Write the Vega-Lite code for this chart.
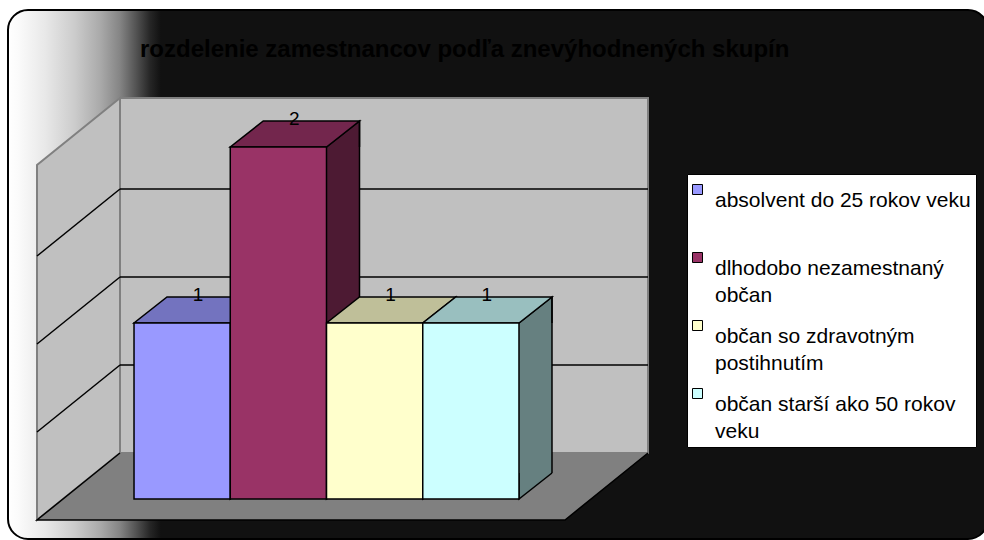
{
  "$schema": "https://vega.github.io/schema/vega-lite/v6.json",
  "width": 528,
  "height": 355,
  "autosize": "none",
  "padding": {"left": 120, "top": 98, "right": 336, "bottom": 87},
  "background": "#ffffff",
  "title": {
    "text": "rozdelenie zamestnancov podľa znevýhodnených skupín",
    "anchor": "start",
    "frame": "group",
    "dx": 20,
    "dy": 75,
    "offset": 0,
    "baseline": "alphabetic",
    "font": "Liberation Sans",
    "fontSize": 24,
    "fontWeight": "bold",
    "color": "#000000"
  },
  "config": {
    "view": {"stroke": null},
    "font": "Liberation Sans",
    "style": {"guide-label": {"lineHeight": 27}}
  },
  "resolve": {"scale": {"x": "independent"}},
  "layer": [
    {
      "data": {"values": [{}]},
      "layer": [
        {
          "mark": {
            "type": "point",
            "shape": "M-92,-443 L848,-443 A20,20 0 0 1 868,-423 L868,66 A20,20 0 0 1 848,86 L-92,86 A20,20 0 0 1 -112,66 L-112,-423 A20,20 0 0 1 -92,-443 Z",
            "size": 4,
            "filled": true,
            "opacity": 1,
            "fill": {
              "gradient": "linear",
              "x1": 0, "y1": 0, "x2": 1, "y2": 0,
              "stops": [
                {"offset": 0, "color": "#ffffff"},
                {"offset": 0.01, "color": "#fbfbfb"},
                {"offset": 0.038, "color": "#e8e8e8"},
                {"offset": 0.068, "color": "#cccccc"},
                {"offset": 0.094, "color": "#aaaaaa"},
                {"offset": 0.114, "color": "#858585"},
                {"offset": 0.13, "color": "#555555"},
                {"offset": 0.145, "color": "#262626"},
                {"offset": 0.156, "color": "#111111"},
                {"offset": 1, "color": "#111111"}
              ]
            },
            "stroke": "#000000",
            "strokeWidth": 2
          },
          "encoding": {
            "x": {"datum": 0, "type": "quantitative", "axis": null, "scale": {"domain": [0, 1], "nice": false, "zero": false}},
            "y": {"datum": 0, "type": "quantitative", "axis": null, "scale": {"domain": [0, 2.017], "nice": false, "zero": false}}
          }
        },
        {
          "mark": {"type": "rect", "fill": "#c0c0c0", "stroke": "#808080", "strokeWidth": 2},
          "encoding": {
            "x": {"datum": 0, "type": "quantitative", "axis": null},
            "x2": {"datum": 1},
            "y": {"datum": 0, "type": "quantitative", "axis": null},
            "y2": {"datum": 2.017}
          }
        },
        {
          "mark": {
            "type": "point",
            "shape": "M0,0 L0,-355 L-83,-288 L-83,67 Z",
            "size": 4,
            "filled": true,
            "opacity": 1,
            "fill": "#c0c0c0",
            "stroke": "#808080",
            "strokeWidth": 2
          },
          "encoding": {
            "x": {"datum": 0, "type": "quantitative", "axis": null},
            "y": {"datum": 0, "type": "quantitative", "axis": null}
          }
        },
        {
          "mark": {
            "type": "point",
            "shape": "M0,0 L-83,67 L445,67 L528,0",
            "size": 4,
            "filled": true,
            "opacity": 1,
            "fill": "#808080",
            "stroke": "#000000",
            "strokeWidth": 1.5
          },
          "encoding": {
            "x": {"datum": 0, "type": "quantitative", "axis": null},
            "y": {"datum": 0, "type": "quantitative", "axis": null}
          }
        },
        {
          "data": {"values": [{"g": 0.5}, {"g": 1}, {"g": 1.5}]},
          "mark": {"type": "rule", "stroke": "#000000", "strokeWidth": 1.5},
          "encoding": {
            "x": {"datum": 0, "type": "quantitative", "axis": null},
            "x2": {"datum": 1},
            "y": {"field": "g", "type": "quantitative", "axis": null}
          }
        },
        {
          "data": {"values": [{"g": 0.5}, {"g": 1}, {"g": 1.5}]},
          "mark": {"type": "rule", "stroke": "#000000", "strokeWidth": 1.5, "x2Offset": -83, "y2Offset": 67},
          "encoding": {
            "x": {"datum": 0, "type": "quantitative", "axis": null},
            "x2": {"datum": 0},
            "y": {"field": "g", "type": "quantitative", "axis": null},
            "y2": {"field": "g"}
          }
        }
      ]
    },
    {
      "data": {
        "values": [
          {"skupina": "absolvent do 25 rokov veku", "pocet": 1},
          {"skupina": "dlhodobo nezamestnaný občan", "pocet": 2},
          {"skupina": "občan so zdravotným postihnutím", "pocet": 1},
          {"skupina": "občan starší ako 50 rokov veku", "pocet": 1}
        ]
      },
      "resolve": {"scale": {"color": "independent"}, "legend": {"color": "independent"}},
      "layer": [
        {
          "encoding": {
            "color": {
              "field": "skupina", "type": "nominal", "legend": null,
              "scale": {
                "domain": ["absolvent do 25 rokov veku", "dlhodobo nezamestnaný občan", "občan so zdravotným postihnutím", "občan starší ako 50 rokov veku"],
                "range": ["#4d4d80", "#4d1a33", "#808066", "#668080"]
              }
            }
          },
          "layer": [
            {
              "mark": {"type": "bar", "width": 33, "xOffset": 64.625, "yOffset": 46, "y2Offset": 20},
              "encoding": {
                "x": {"field": "skupina", "type": "nominal", "sort": null, "axis": null, "scale": {"type": "band", "paddingInner": 0, "paddingOuter": 0.743, "align": 0.098}},
                "y": {"field": "pocet", "type": "quantitative", "axis": null, "scale": {"domain": [0, 2.017], "nice": false, "zero": false}},
                "y2": {"datum": 0}
              }
            },
            {
              "mark": {"type": "point", "shape": "M0,0 L33,-26 L33,0", "size": 4, "filled": true, "opacity": 1, "stroke": "#000000", "strokeWidth": 1.5, "yOffset": 46},
              "encoding": {
                "x": {"field": "skupina", "type": "nominal", "sort": null, "axis": null, "bandPosition": 1},
                "y": {"field": "pocet", "type": "quantitative", "axis": null}
              }
            },
            {
              "mark": {"type": "point", "shape": "M33,-26 L0,0 L0,-26", "size": 4, "filled": true, "opacity": 1, "stroke": "#000000", "strokeWidth": 1.5, "yOffset": 46},
              "encoding": {
                "x": {"field": "skupina", "type": "nominal", "sort": null, "axis": null, "bandPosition": 1},
                "y": {"datum": 0, "type": "quantitative", "axis": null}
              }
            },
            {
              "mark": {"type": "rule", "stroke": "#000000", "strokeWidth": 1.5, "xOffset": 33, "yOffset": 20, "y2Offset": 20},
              "encoding": {
                "x": {"field": "skupina", "type": "nominal", "sort": null, "axis": null, "bandPosition": 1},
                "y": {"field": "pocet", "type": "quantitative", "axis": null},
                "y2": {"datum": 0},
                "color": {"value": "#000000"}
              }
            }
          ]
        },
        {
          "mark": {"type": "point", "shape": "M0,0 L96.25,0 L129.25,-26 L33,-26 Z", "size": 4, "filled": true, "opacity": 1, "stroke": "#000000", "strokeWidth": 1.5, "yOffset": 46},
          "encoding": {
            "x": {"field": "skupina", "type": "nominal", "sort": null, "axis": null, "bandPosition": 0},
            "y": {"field": "pocet", "type": "quantitative", "axis": null},
            "color": {
              "field": "skupina", "type": "nominal", "legend": null,
              "scale": {
                "domain": ["absolvent do 25 rokov veku", "dlhodobo nezamestnaný občan", "občan so zdravotným postihnutím", "občan starší ako 50 rokov veku"],
                "range": ["#7373bf", "#73264d", "#bfbf99", "#99bfbf"]
              }
            }
          }
        },
        {
          "mark": {"type": "bar", "stroke": "#000000", "strokeWidth": 1.5, "yOffset": 46, "y2Offset": 46},
          "encoding": {
            "x": {"field": "skupina", "type": "nominal", "sort": null, "axis": null},
            "y": {"field": "pocet", "type": "quantitative", "axis": null},
            "y2": {"datum": 0},
            "color": {
              "field": "skupina", "type": "nominal",
              "scale": {
                "domain": ["absolvent do 25 rokov veku", "dlhodobo nezamestnaný občan", "občan so zdravotným postihnutím", "občan starší ako 50 rokov veku"],
                "range": ["#9999ff", "#993366", "#ffffcc", "#ccffff"]
              },
              "legend": {
                "title": null,
                "orient": "none",
                "legendX": 567,
                "legendY": 76,
                "fillColor": "#ffffff",
                "strokeColor": "#000000",
                "padding": 5,
                "symbolOffset": -5,
                "symbolType": "square",
                "symbolSize": 100,
                "symbolStrokeColor": "#000000",
                "symbolStrokeWidth": 1,
                "labelFont": "Liberation Sans",
                "labelFontSize": 21,
                "labelColor": "#000000",
                "labelOffset": 7,
                "labelLimit": 400,
                "labelBaseline": "top",
                "rowPadding": 9,
                "labelExpr": "datum.label == 'dlhodobo nezamestnaný občan' ? ['dlhodobo nezamestnaný', 'občan'] : datum.label == 'občan so zdravotným postihnutím' ? ['občan so zdravotným', 'postihnutím'] : datum.label == 'občan starší ako 50 rokov veku' ? ['občan starší ako 50 rokov', 'veku'] : [datum.label, '']"
              }
            }
          }
        },
        {
          "mark": {"type": "text", "font": "Liberation Sans", "fontSize": 19, "color": "#000000", "baseline": "middle", "align": "center", "xOffset": 16, "yOffset": 18},
          "encoding": {
            "x": {"field": "skupina", "type": "nominal", "sort": null, "axis": null},
            "y": {"field": "pocet", "type": "quantitative", "axis": null},
            "text": {"field": "pocet", "type": "quantitative"}
          }
        }
      ]
    }
  ]
}
